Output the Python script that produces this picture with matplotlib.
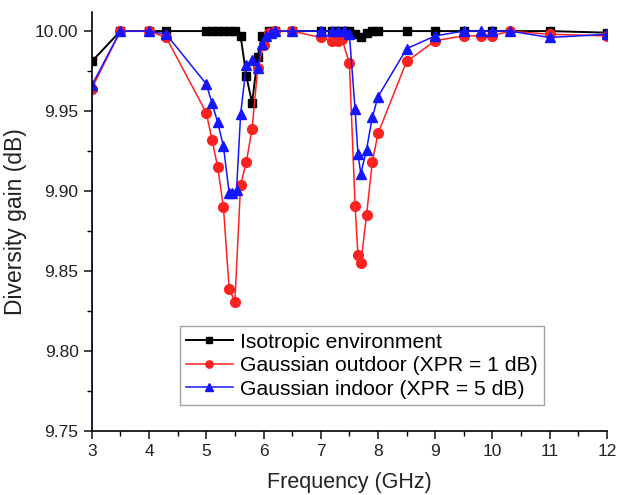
import matplotlib
matplotlib.use("Agg")
import matplotlib.pyplot as plt
from matplotlib.ticker import MultipleLocator, FormatStrFormatter

plt.rcParams['font.family'] = ['Liberation Sans', 'DejaVu Sans']

# Isotropic environment
iso_f = [3.0, 3.5, 4.0, 4.3, 5.0, 5.1, 5.2, 5.3, 5.4, 5.5, 5.6, 5.7, 5.8, 5.9, 5.97, 6.1, 6.2,
         6.5, 7.0, 7.2, 7.3, 7.4, 7.5, 7.6, 7.7, 7.8, 7.9, 8.0, 8.5, 9.0, 9.5, 10.0, 11.0, 12.0]
iso_g = [9.981, 10.0, 10.0, 10.0, 10.0, 10.0, 10.0, 10.0, 10.0, 10.0, 9.997, 9.972, 9.955, 9.984, 9.997, 10.0, 10.0,
         10.0, 10.0, 10.0, 10.0, 10.0, 10.0, 9.998, 9.996, 9.999, 10.0, 10.0, 10.0, 10.0, 10.0, 10.0, 10.0, 9.999]

# Gaussian outdoor (XPR = 1 dB)
out_f = [3.0, 3.5, 4.0, 4.3, 5.0, 5.1, 5.2, 5.3, 5.4, 5.5, 5.6, 5.7, 5.8, 5.9, 6.0, 6.1, 6.2,
         6.5, 7.0, 7.2, 7.3, 7.37, 7.5, 7.6, 7.65, 7.7, 7.8, 7.9, 8.0, 8.5, 9.0, 9.5, 9.8, 10.0, 10.3, 11.0, 12.0]
out_g = [9.964, 10.0, 10.0, 9.996, 9.949, 9.932, 9.915, 9.890, 9.839, 9.831, 9.904, 9.918, 9.939, 9.977, 9.991, 9.999, 10.0,
         10.0, 9.996, 9.994, 9.994, 9.995, 9.980, 9.891, 9.860, 9.855, 9.885, 9.918, 9.936, 9.981, 9.994, 9.997, 9.997, 9.997, 10.0, 9.998, 9.997]

# Gaussian indoor (XPR = 5 dB)
in_f = [3.0, 3.0, 3.5, 4.0, 4.3, 5.0, 5.1, 5.2, 5.3, 5.4, 5.45, 5.53, 5.6, 5.7, 5.8, 5.9, 5.97, 6.05, 6.13, 6.2,
        6.5, 7.0, 7.2, 7.3, 7.4, 7.5, 7.6, 7.65, 7.7, 7.8, 7.9, 8.0, 8.5, 9.0, 9.5, 9.8, 10.0, 10.3, 11.0, 12.0]
in_g = [9.70, 9.966, 10.0, 10.0, 9.998, 9.967, 9.955, 9.943, 9.928, 9.899, 9.899, 9.901, 9.948, 9.979, 9.982, 9.977, 9.992, 9.997, 9.999, 10.0,
        10.0, 10.0, 10.0, 10.0, 10.0, 9.998, 9.951, 9.923, 9.911, 9.926, 9.946, 9.959, 9.989, 9.997, 10.0, 10.0, 10.0, 10.0, 9.996, 9.998]

fig = plt.figure(figsize=(6.2, 4.95), dpi=100)
ax = fig.add_axes([0.148, 0.129, 0.831, 0.847])

ax.plot(iso_f, iso_g, color='black', marker='s', markersize=5.5, linewidth=1.4,
        label='Isotropic environment')
ax.plot(out_f, out_g, color='#ff2020', marker='o', markersize=7, linewidth=1.1,
        label='Gaussian outdoor (XPR = 1 dB)')
ax.plot(in_f, in_g, color='#1515ff', marker='^', markersize=7.5, linewidth=1.1,
        label='Gaussian indoor (XPR = 5 dB)')

ax.set_xlim(3, 12)
ax.set_ylim(9.75, 10.012)
ax.xaxis.set_major_locator(MultipleLocator(1))
ax.xaxis.set_minor_locator(MultipleLocator(0.5))
ax.yaxis.set_major_locator(MultipleLocator(0.05))
ax.yaxis.set_minor_locator(MultipleLocator(0.025))
ax.yaxis.set_major_formatter(FormatStrFormatter('%.2f'))

for s in ['top', 'right']:
    ax.spines[s].set_visible(False)
for s in ['left', 'bottom']:
    ax.spines[s].set_linewidth(1.2)
ax.tick_params(which='major', direction='out', length=6, width=1.2, labelsize=12.5, colors='#222222')
ax.tick_params(which='minor', direction='out', length=3.5, width=1.0)

ax.set_xlabel('Frequency (GHz)', fontsize=15.5, color='#222222', labelpad=9)
ax.set_ylabel('Diversity gain (dB)', fontsize=16.5, color='#222222', labelpad=6)

leg = ax.legend(loc='lower left', bbox_to_anchor=(0.171, 0.062), fontsize=15.2,
                frameon=True, fancybox=False, edgecolor='#888888', handlelength=2.2,
                borderpad=0.3, labelspacing=0.22, handletextpad=0.35, markerscale=0.75,
                borderaxespad=0.0)
leg.get_frame().set_linewidth(1.0)

fig.savefig('out.png', dpi=100)
